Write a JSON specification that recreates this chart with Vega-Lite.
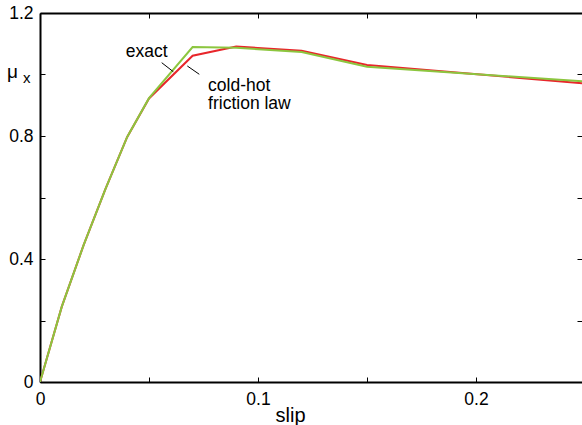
{
  "$schema": "https://vega.github.io/schema/vega-lite/v6.json",
  "width": 542,
  "height": 369,
  "autosize": {"type": "none"},
  "padding": {"left": 40, "top": 13, "right": 0, "bottom": 43},
  "background": "white",
  "config": {
    "view": {"stroke": null},
    "font": "Liberation Sans",
    "axis": {
      "domainColor": "black",
      "domainWidth": 2,
      "tickColor": "black",
      "tickWidth": 1,
      "grid": false,
      "labelColor": "black",
      "labelFont": "Liberation Sans",
      "labelFontSize": 17.5,
      "labelFlush": false,
      "labelOverlap": false,
      "titleColor": "black",
      "titleFont": "Liberation Sans",
      "titleFontWeight": "normal"
    }
  },
  "datasets": {
    "curves": [
      {"slip": 0, "mu": 0, "model": "cold-hot friction law"},
      {"slip": 0.01, "mu": 0.245, "model": "cold-hot friction law"},
      {"slip": 0.02, "mu": 0.445, "model": "cold-hot friction law"},
      {"slip": 0.03, "mu": 0.627, "model": "cold-hot friction law"},
      {"slip": 0.04, "mu": 0.797, "model": "cold-hot friction law"},
      {"slip": 0.05, "mu": 0.922, "model": "cold-hot friction law"},
      {"slip": 0.07, "mu": 1.061, "model": "cold-hot friction law"},
      {"slip": 0.09, "mu": 1.091, "model": "cold-hot friction law"},
      {"slip": 0.12, "mu": 1.077, "model": "cold-hot friction law"},
      {"slip": 0.15, "mu": 1.031, "model": "cold-hot friction law"},
      {"slip": 0.25, "mu": 0.971, "model": "cold-hot friction law"},
      {"slip": 0, "mu": 0, "model": "exact"},
      {"slip": 0.01, "mu": 0.245, "model": "exact"},
      {"slip": 0.02, "mu": 0.445, "model": "exact"},
      {"slip": 0.03, "mu": 0.627, "model": "exact"},
      {"slip": 0.04, "mu": 0.797, "model": "exact"},
      {"slip": 0.05, "mu": 0.923, "model": "exact"},
      {"slip": 0.07, "mu": 1.0895, "model": "exact"},
      {"slip": 0.09, "mu": 1.087, "model": "exact"},
      {"slip": 0.12, "mu": 1.073, "model": "exact"},
      {"slip": 0.15, "mu": 1.025, "model": "exact"},
      {"slip": 0.25, "mu": 0.977, "model": "exact"}
    ],
    "leaders": [
      {"x": 0.05583, "y": 1.0384, "x2": 0.06115, "y2": 1.0091},
      {"x": 0.06757, "y": 1.0277, "x2": 0.07307, "y2": 1.0007}
    ],
    "labels": [
      {"x": 0.0393, "y": 1.058, "text": "exact"},
      {"x": 0.0771, "y": 0.947, "text": "cold-hot\nfriction law"}
    ],
    "ylabel": [
      {"x": -0.0151, "y": 0.99, "text": "μ", "size": 19},
      {"x": -0.0078, "y": 0.973, "text": "x", "size": 15}
    ]
  },
  "resolve": {"axis": {"x": "independent", "y": "independent"}},
  "layer": [
    {
      "data": {"name": "curves"},
      "transform": [{"filter": "datum.model === 'cold-hot friction law'"}],
      "mark": {"type": "line", "color": "#e8262b", "strokeWidth": 2, "clip": true},
      "encoding": {
        "x": {
          "field": "slip", "type": "quantitative",
          "scale": {"domain": [0, 0.24862], "nice": false, "zero": false},
          "axis": {
            "orient": "bottom",
            "values": [0, 0.05, 0.1, 0.15, 0.2],
            "tickSize": -5,
            "labelPadding": 13,
            "labelExpr": "datum.value < 0.001 ? '0' : abs(datum.value - 0.1) < 0.001 ? '0.1' : abs(datum.value - 0.2) < 0.001 ? '0.2' : ''",
            "title": "slip",
            "titleFontSize": 20,
            "titleX": 250,
            "titleY": 39,
            "titleAlign": "center",
            "titleBaseline": "alphabetic"
          }
        },
        "y": {
          "field": "mu", "type": "quantitative",
          "scale": {"domain": [0, 1.2], "nice": false},
          "axis": {
            "orient": "left",
            "values": [0, 0.2, 0.4, 0.6, 0.8, 1.0, 1.2],
            "tickSize": -5,
            "labelPadding": 12,
            "labelExpr": "datum.value < 0.001 ? '0' : abs(datum.value - 0.4) < 0.001 ? '0.4' : abs(datum.value - 0.8) < 0.001 ? '0.8' : abs(datum.value - 1.2) < 0.001 ? '1.2' : ''",
            "title": null
          }
        }
      }
    },
    {
      "data": {"name": "curves"},
      "transform": [{"filter": "datum.model === 'exact'"}],
      "mark": {"type": "line", "color": "#8cc63f", "strokeWidth": 2, "clip": true},
      "encoding": {
        "x": {
          "field": "slip", "type": "quantitative",
          "axis": {
            "orient": "top",
            "values": [0, 0.05, 0.1, 0.15, 0.2],
            "tickSize": -5,
            "labels": false,
            "title": null
          }
        },
        "y": {
          "field": "mu", "type": "quantitative",
          "axis": {
            "orient": "right",
            "values": [0, 0.2, 0.4, 0.6, 0.8, 1.0, 1.2],
            "tickSize": -5,
            "labels": false,
            "domain": false,
            "title": null
          }
        }
      }
    },
    {
      "data": {"name": "leaders"},
      "mark": {"type": "rule", "color": "black", "strokeWidth": 1},
      "encoding": {
        "x": {"field": "x", "type": "quantitative", "axis": null},
        "y": {"field": "y", "type": "quantitative", "axis": null},
        "x2": {"field": "x2"},
        "y2": {"field": "y2"}
      }
    },
    {
      "data": {"name": "labels"},
      "mark": {"type": "text", "align": "left", "baseline": "alphabetic", "fontSize": 17.5, "lineBreak": "\n", "lineHeight": 18, "color": "black", "font": "Liberation Sans"},
      "encoding": {
        "x": {"field": "x", "type": "quantitative", "axis": null},
        "y": {"field": "y", "type": "quantitative", "axis": null},
        "text": {"field": "text"}
      }
    },
    {
      "data": {"name": "ylabel"},
      "mark": {"type": "text", "align": "left", "baseline": "alphabetic", "color": "black", "font": "Liberation Sans"},
      "encoding": {
        "x": {"field": "x", "type": "quantitative", "axis": null},
        "y": {"field": "y", "type": "quantitative", "axis": null},
        "text": {"field": "text"},
        "size": {"field": "size", "type": "quantitative", "scale": null, "legend": null}
      }
    }
  ]
}
